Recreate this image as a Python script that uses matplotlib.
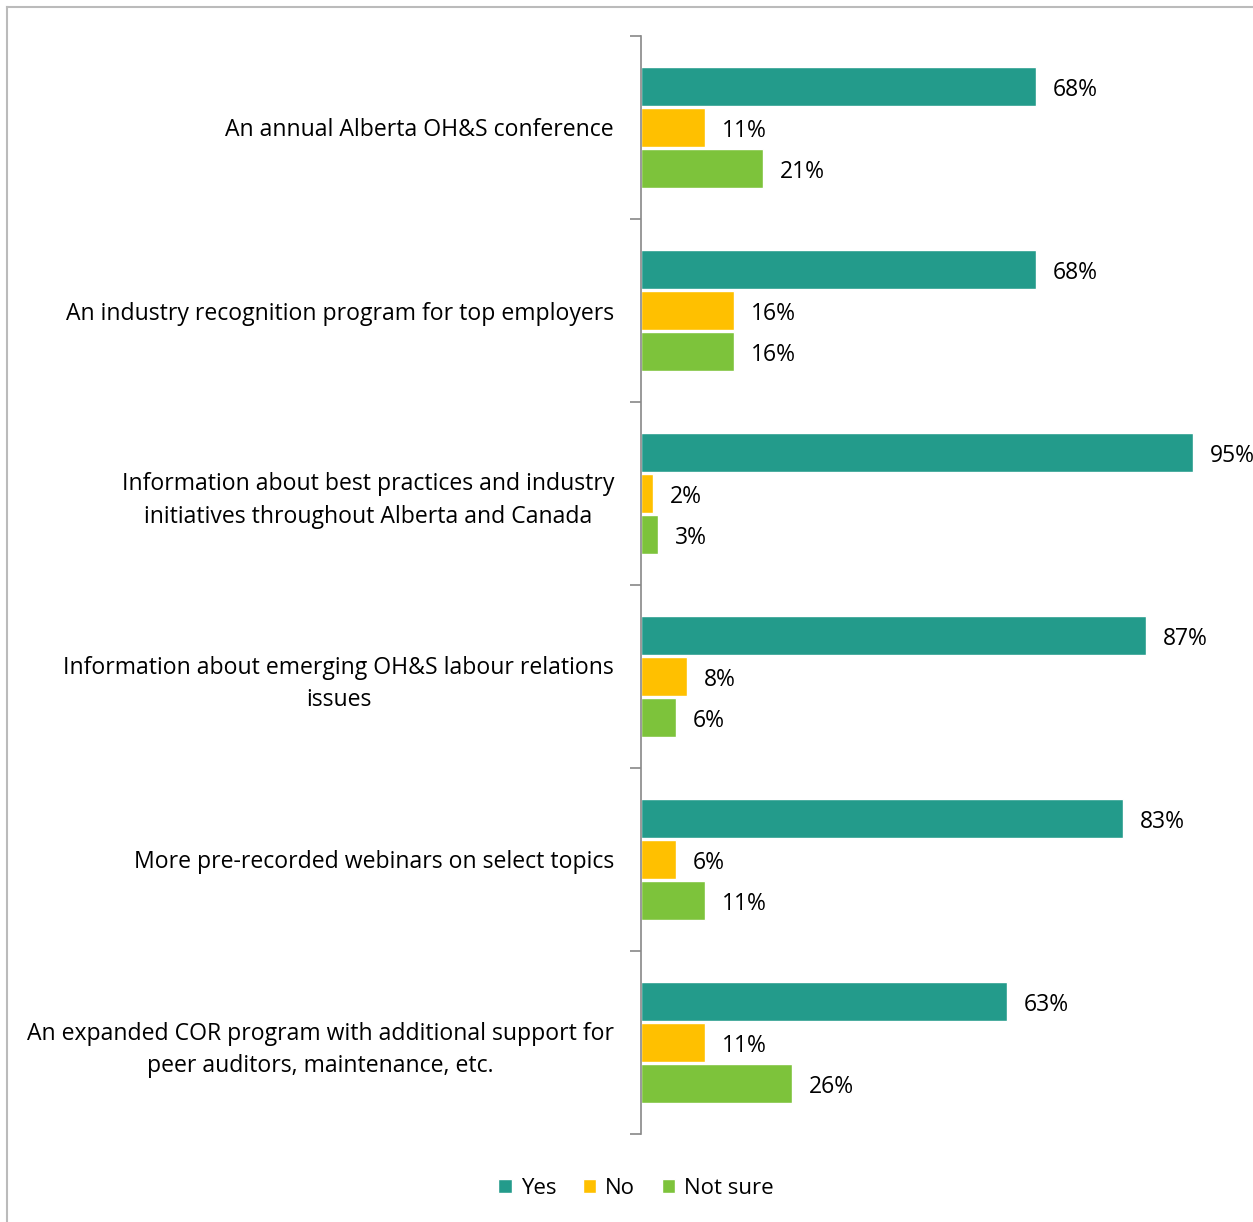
import matplotlib.pyplot as plt
import numpy as np

plt.rcParams['font.family'] = ['Open Sans', 'DejaVu Sans']

categories = [
    "An annual Alberta OH&S conference",
    "An industry recognition program for top employers",
    "Information about best practices and industry\ninitiatives throughout Alberta and Canada",
    "Information about emerging OH&S labour relations\nissues",
    "More pre-recorded webinars on select topics",
    "An expanded COR program with additional support for\npeer auditors, maintenance, etc.",
]
yes = [68, 68, 95, 87, 83, 63]
no = [11, 16, 2, 8, 6, 11]
not_sure = [21, 16, 3, 6, 11, 26]

series = [("Yes", yes, "#239B8B"), ("No", no, "#FFC000"), ("Not sure", not_sure, "#7DC33B")]

fig = plt.figure(figsize=(12.53, 12.22), dpi=100)
ax = fig.add_axes([641 / 1253, 1 - 1134 / 1222, 581 / 1253, 1098 / 1222])

n = len(categories)
pos = np.arange(n)
h = 0.215
for j, (name, vals, col) in enumerate(series):
    y = pos + (j - 1) * 0.223
    ax.barh(y, vals, height=h, color=col, edgecolor="white", linewidth=1, label=name)
    for yi, v in zip(y, vals):
        ax.text(v + 2.9, yi + 0.018, f"{v}%", va="center", ha="left", fontsize=16.5)

ax.set_xlim(0, 100)
ax.set_ylim(n - 0.5, -0.5)
ax.set_xticks([])
ax.set_yticks(np.arange(-0.5, n, 1.0))
ax.set_yticklabels([])
ax.tick_params(axis="y", length=8, color="#888888", width=1.2)
ax.set_yticks(pos, minor=True)
ax.set_yticklabels(categories, minor=True, fontsize=16.6, multialignment="center",
                   linespacing=1.45)
ax.tick_params(axis="y", which="minor", length=0, pad=19.5)
for s in ["top", "right", "bottom"]:
    ax.spines[s].set_visible(False)
ax.spines["left"].set_color("#888888")
ax.spines["left"].set_linewidth(1.2)

leg = fig.legend(loc="center", bbox_to_anchor=(636 / 1253, 1 - 1188 / 1222), ncol=3,
                 frameon=False, fontsize=16, handlelength=0.6, handleheight=0.6,
                 handletextpad=0.4, columnspacing=1.2)

# thin frame along the top and left edges
fig.add_artist(plt.Line2D([7 / 1253, 1], [1 - 7 / 1222] * 2, color="#BBBBBB", lw=1.5,
                          transform=fig.transFigure))
fig.add_artist(plt.Line2D([7 / 1253] * 2, [0, 1 - 7 / 1222], color="#BBBBBB", lw=1.5,
                          transform=fig.transFigure))

fig.savefig("out.png", dpi=100)
